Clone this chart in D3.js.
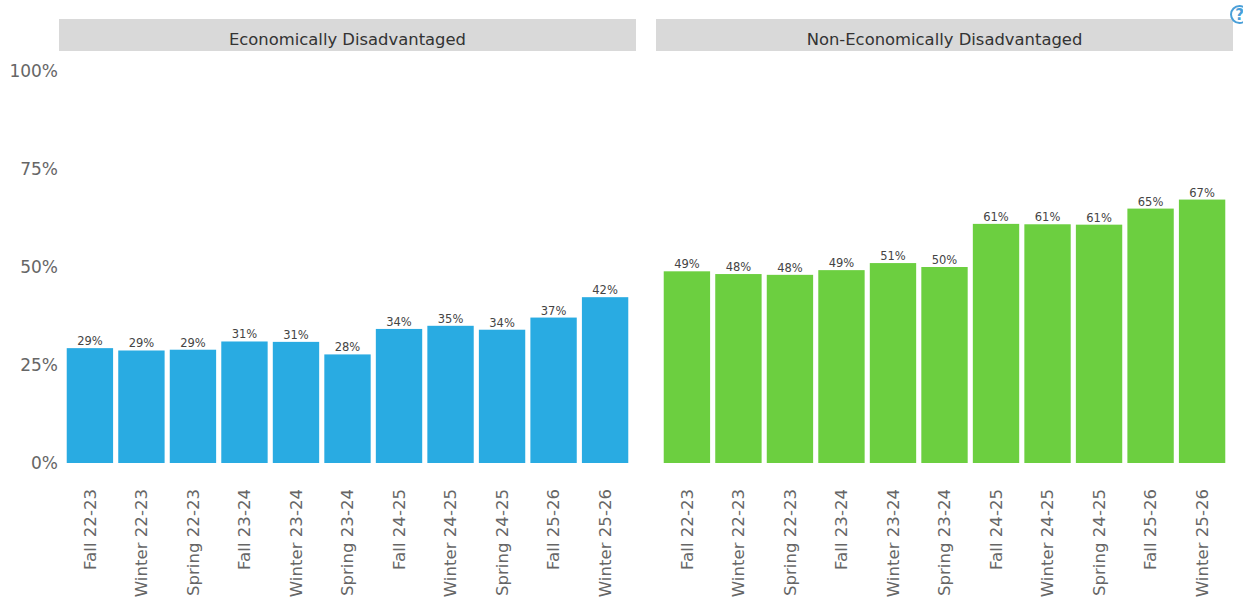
<!DOCTYPE html>
<html>
<head>
<meta charset="utf-8">
<script src="https://cdn.jsdelivr.net/npm/d3@7"></script>
<style>
  html, body { margin: 0; padding: 0; background: #fff; overflow: hidden; }
  svg { display: block; }
  text { font-family: "DejaVu Sans", sans-serif; }
</style>
</head>
<body>
<div id="chart"></div>
<script>
var categories = ['Fall 22-23', 'Winter 22-23', 'Spring 22-23', 'Fall 23-24', 'Winter 23-24', 'Spring 23-24',
  'Fall 24-25', 'Winter 24-25', 'Spring 24-25', 'Fall 25-26', 'Winter 25-26'];
var panels = ['Economically Disadvantaged', 'Non-Economically Disadvantaged'];
var disadvantaged = [29.3, 28.7, 28.9, 31, 30.9, 27.7, 34.2, 35, 34, 37.1, 42.3];
var nonDisadvantaged = [48.9, 48.2, 48, 49.2, 51, 50, 61, 60.9, 60.8, 64.9, 67.2];
var labelsLeft = ['29%', '29%', '29%', '31%', '31%', '28%', '34%', '35%', '34%', '37%', '42%'];
var labelsRight = ['49%', '48%', '48%', '49%', '51%', '50%', '61%', '61%', '61%', '65%', '67%'];
var yTicks = [0, 25, 50, 75, 100];
var colours = ['#29abe2', '#6ccf40'];

var width = 1243, height = 597;
var stripTop = 19, stripHeight = 32;
var panelLeft = [59, 656], panelWidth = 577;

var svg = d3.select('#chart').append('svg')
  .attr('width', width)
  .attr('height', height);

var y = d3.scaleLinear().domain([0, 100]).range([463, 71]);

// y axis, shared by both panels
var yAxis = svg.append('g')
  .attr('transform', 'translate(59,0)')
  .call(d3.axisLeft(y).tickValues(yTicks).tickSize(0).tickPadding(1).tickFormat(function(d) { return d + '%'; }));
yAxis.select('.domain').remove();
yAxis.selectAll('text')
  .attr('font-size', '17px')
  .attr('fill', '#666')
  .style('font-family', '"DejaVu Sans", sans-serif');

function drawPanel(idx, values, labels) {
  var x = d3.scaleBand()
    .domain(categories)
    .range([panelLeft[idx], panelLeft[idx] + panelWidth])
    .paddingInner(0.1)
    .paddingOuter(0.15);

  var g = svg.append('g');

  g.append('rect')
    .attr('x', panelLeft[idx])
    .attr('y', stripTop)
    .attr('width', panelWidth)
    .attr('height', stripHeight)
    .attr('fill', '#d9d9d9');

  g.append('text')
    .attr('x', panelLeft[idx] + panelWidth / 2)
    .attr('y', stripTop + stripHeight / 2 + 10)
    .attr('text-anchor', 'middle')
    .attr('font-size', '16.4px')
    .attr('fill', '#333')
    .text(panels[idx]);

  g.selectAll('rect.bar')
    .data(values)
    .join('rect')
    .attr('class', 'bar')
    .attr('x', function(d, i) { return x(categories[i]); })
    .attr('y', function(d) { return y(d); })
    .attr('width', x.bandwidth())
    .attr('height', function(d) { return y(0) - y(d); })
    .attr('fill', colours[idx]);

  g.selectAll('text.val')
    .data(values)
    .join('text')
    .attr('class', 'val')
    .attr('x', function(d, i) { return x(categories[i]) + x.bandwidth() / 2; })
    .attr('y', function(d) { return y(d) - 3; })
    .attr('text-anchor', 'middle')
    .attr('font-size', '11.5px')
    .attr('fill', '#444')
    .text(function(d, i) { return labels[i]; });

  var xAxis = g.append('g')
    .attr('transform', 'translate(0,463)')
    .call(d3.axisBottom(x).tickSize(0));
  xAxis.select('.domain').remove();
  xAxis.selectAll('text')
    .attr('transform', 'translate(0,26) rotate(-90)')
    .attr('x', 0)
    .attr('y', 0)
    .attr('dy', '0.35em')
    .attr('text-anchor', 'end')
    .attr('font-size', '16.6px')
    .attr('fill', '#666')
    .style('font-family', '"DejaVu Sans", sans-serif');
}

drawPanel(0, disadvantaged, labelsLeft);
drawPanel(1, nonDisadvantaged, labelsRight);

// help icon, clipped by the right edge of the page
var helpIcon = svg.append('g').attr('transform', 'translate(1239.5,14.5)');
helpIcon.append('circle')
  .attr('r', 8.5)
  .attr('fill', '#fff')
  .attr('stroke', '#4a9fd8')
  .attr('stroke-width', 2);
helpIcon.append('text')
  .attr('text-anchor', 'middle')
  .attr('y', 5.5)
  .attr('font-size', '15px')
  .attr('font-weight', 'bold')
  .attr('fill', '#4a9fd8')
  .text('?');
</script>
</body>
</html>
